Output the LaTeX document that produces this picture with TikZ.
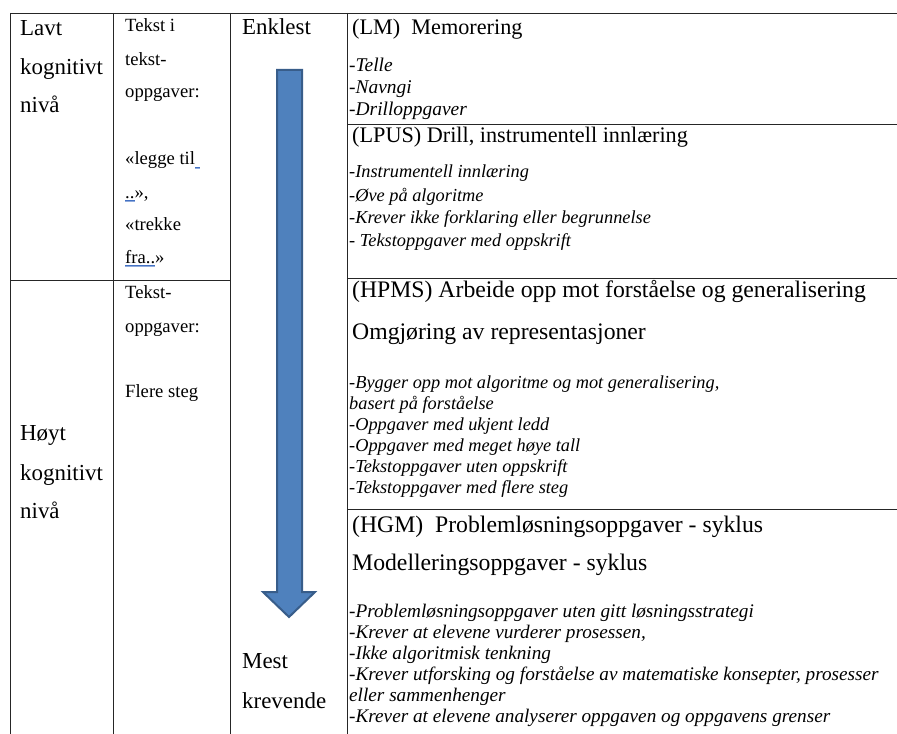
\documentclass[tikz,border=0pt]{standalone}
\usepackage{fontspec}
\setmainfont{Liberation Serif}
\definecolor{arrowfill}{HTML}{4F81BD}
\definecolor{arrowline}{HTML}{385D8A}
\definecolor{ulblue}{HTML}{4472C4}
\newcommand{\dblul}[1]{\leavevmode\setbox0\hbox{#1}\rlap{\color{ulblue}\rule[-2.4pt]{\wd0}{0.6pt}}\rlap{\color{ulblue!60}\rule[-3.8pt]{\wd0}{0.6pt}}\box0}
\begin{document}
\begin{tikzpicture}[x=1bp,y=-1bp,
  big/.style={anchor=base west,inner sep=0pt,font=\fontsize{23}{27}\selectfont},
  mid/.style={anchor=base west,inner sep=0pt,font=\fontsize{18.7}{22}\selectfont},
  head/.style={anchor=base west,inner sep=0pt,font=\fontsize{22.3}{26}\selectfont},
  headb/.style={anchor=base west,inner sep=0pt,font=\fontsize{23.8}{28}\selectfont},
  itema/.style={anchor=base west,inner sep=0pt,font=\itshape\fontsize{19.5}{22}\selectfont},
  item/.style={anchor=base west,inner sep=0pt,font=\itshape\fontsize{18.4}{21}\selectfont},
  itemc/.style={anchor=base west,inner sep=0pt,font=\itshape\fontsize{19.3}{22}\selectfont},
  grid/.style={line width=0.9bp,draw=black!85}]
\useasboundingbox (0,0) rectangle (897,734);
\fill[white] (0,0) rectangle (897,734);
% table lines
\draw[grid] (10,13) -- (897,13);
\draw[grid] (10,13) -- (10,734);
\draw[grid] (113.5,13) -- (113.5,734);
\draw[grid] (230.5,13) -- (230.5,734);
\draw[grid] (347,13) -- (347,734);
\draw[grid] (10,280) -- (230.5,280);
\draw[grid] (347,124) -- (897,124);
\draw[grid] (347,278) -- (897,278);
\draw[grid] (347,509) -- (897,509);
% arrow
\draw[fill=arrowfill,draw=arrowline,line width=2bp,line join=miter]
  (277,70) -- (302,70) -- (302,592) -- (315,592) -- (289,617) -- (263,592) -- (277,592) -- cycle;
% column 1
\node[big] (c1a) at (20,35.5) {Lavt};
\node[big] (c1b) at (20,75) {kognitivt};
\node[big] (c1c) at (20,113) {nivå};
\node[big] (c1d) at (20,440) {Høyt};
\node[big] (c1e) at (20,480) {kognitivt};
\node[big] (c1f) at (20,518) {nivå};
% column 2
\node[mid] (c2a) at (125,32) {Tekst i};
\node[mid] (c2b) at (125,66) {tekst-};
\node[mid] (c2c) at (125,98) {oppgaver:};
\node[mid] (c2d) at (125,165) {«legge til\dblul{\ }};
\node[mid] (c2e) at (125,198) {\dblul{..}»,};
\node[mid] (c2f) at (125,230) {«trekke};
\node[mid] (c2g) at (125,263) {\dblul{fra..}»};
\node[mid] (c2h) at (125,298) {Tekst-};
\node[mid] (c2i) at (125,332) {oppgaver:};
\node[mid] (c2j) at (125,397) {Flere steg};
% column 3
\node[big] (c3a) at (242,35) {Enklest};
\node[big] (c3b) at (242,668) {Mest};
\node[big] (c3c) at (242,708) {krevende};
% right column: LM
\node[head] (lm) at (352,35) {(LM)\ \ Memorering};
\node[itema] (lm1) at (349,72) {-Telle};
\node[itema] (lm2) at (349,94) {-Navngi};
\node[itema] (lm3) at (349,116) {-Drilloppgaver};
% LPUS
\node[head] (lpus) at (352,143) {(LPUS) Drill, instrumentell innlæring};
\node[item] (lp1) at (349,178) {-Instrumentell innlæring};
\node[item] (lp2) at (349,201) {-Øve på algoritme};
\node[item] (lp3) at (349,223.5) {-Krever ikke forklaring eller begrunnelse};
\node[item] (lp4) at (349,246) {- Tekstoppgaver med oppskrift};
% HPMS
\node[headb] (hpms) at (352,297) {(HPMS) Arbeide opp mot forståelse og generalisering};
\node[headb] (hpmsb) at (352,339) {Omgjøring av representasjoner};
\node[item] (hp1) at (349,388) {-Bygger opp mot algoritme og mot generalisering,};
\node[item] (hp2) at (349,409) {basert på forståelse};
\node[item] (hp3) at (349,430) {-Oppgaver med ukjent ledd};
\node[item] (hp4) at (349,451) {-Oppgaver med meget høye tall};
\node[item] (hp5) at (349,472) {-Tekstoppgaver uten oppskrift};
\node[item] (hp6) at (349,493) {-Tekstoppgaver med flere steg};
% HGM
\node[headb] (hgm) at (352,532) {(HGM)\ \ Problemløsningsoppgaver - syklus};
\node[headb] (hgmb) at (352,570) {Modelleringsoppgaver - syklus};
\node[itemc] (hg1) at (349,617) {-Problemløsningsoppgaver uten gitt løsningsstrategi};
\node[itemc] (hg2) at (349,638) {-Krever at elevene vurderer prosessen,};
\node[itemc] (hg3) at (349,659) {-Ikke algoritmisk tenkning};
\node[itemc] (hg4) at (349,680) {-Krever utforsking og forståelse av matematiske konsepter, prosesser};
\node[itemc] (hg5) at (349,701) {eller sammenhenger};
\node[itemc] (hg6) at (349,722) {-Krever at elevene analyserer oppgaven og oppgavens grenser};
\end{tikzpicture}
\end{document}
